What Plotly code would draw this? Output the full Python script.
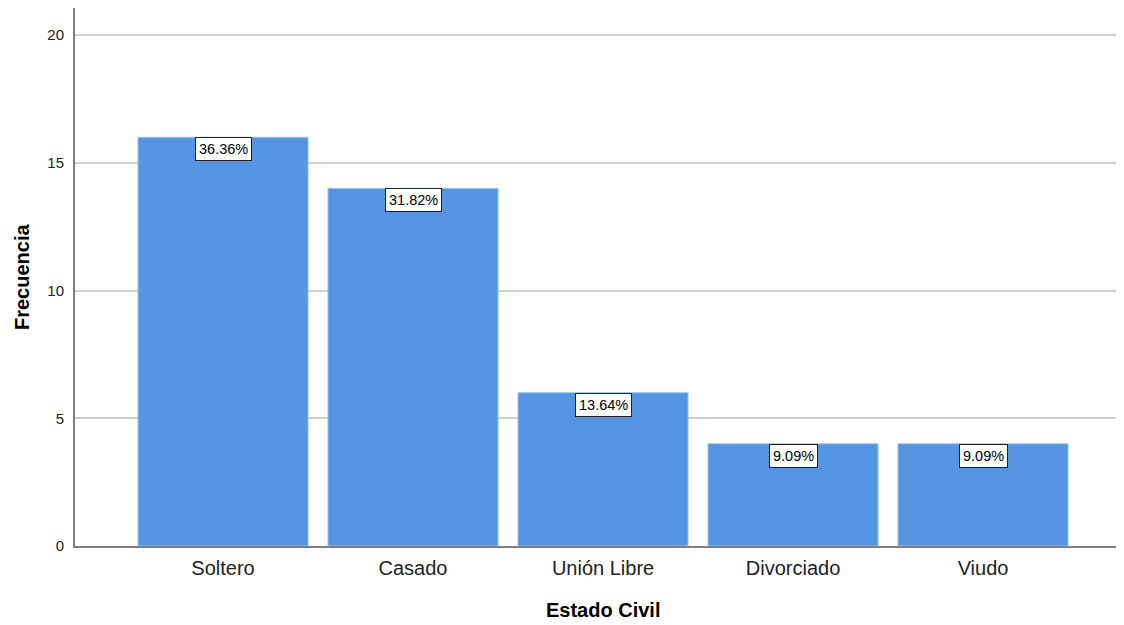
import plotly.graph_objects as go

categories = ["Soltero", "Casado", "Unión Libre", "Divorciado", "Viudo"]
counts = [16, 14, 6, 4, 4]
pct_labels = ["36.36%", "31.82%", "13.64%", "9.09%", "9.09%"]
y_ticks = [0, 5, 10, 15, 20]

FONT = "Arial, Liberation Sans, sans-serif"

fig = go.Figure()
fig.add_trace(go.Bar(
    x=list(range(len(categories))),
    y=counts,
    marker=dict(color="#5594e3", line=dict(color="#9cc2f0", width=1)),
    width=0.895,
    hoverinfo="skip",
))

annotations = []
for i, (c, lab) in enumerate(zip(counts, pct_labels)):
    annotations.append(dict(
        x=i, y=c, xref="x", yref="y", text=lab, showarrow=False,
        yanchor="top", xanchor="center",
        font=dict(family=FONT, size=14.5, color="#000"),
        bgcolor="white", bordercolor="#222", borderwidth=1, borderpad=3,
    ))

annotations.append(dict(
    x=0.5033, y=0, xref="paper", yref="paper", yshift=-64,
    text="<b>Estado Civil</b>", showarrow=False, xanchor="center", yanchor="middle",
    font=dict(family=FONT, size=20, color="#000"),
))
annotations.append(dict(
    x=0, y=0.5, xref="paper", yref="paper", xshift=-53,
    text="<b>Frecuencia</b>", showarrow=False, xanchor="center", yanchor="middle",
    textangle=-90, font=dict(family=FONT, size=20, color="#000"),
))

fig.update_layout(
    width=1116, height=617,
    margin=dict(l=67, r=0, t=0, b=79, pad=0),
    paper_bgcolor="white", plot_bgcolor="white",
    showlegend=False,
    annotations=annotations,
    font=dict(family=FONT),
)
fig.update_xaxes(
    tickmode="array", tickvals=list(range(len(categories))), ticktext=categories,
    range=[-0.779, 4.742], showgrid=False, zeroline=False,
    showline=True, linecolor="#7f7f7f", linewidth=1.5,
    ticks="", ticklabelstandoff=3,
    tickfont=dict(family=FONT, size=20, color="#222"),
)
fig.update_yaxes(
    tickmode="array", tickvals=y_ticks,
    range=[0, 21.06], showgrid=True, gridcolor="#cfcfcf", gridwidth=1.5,
    zeroline=False, showline=True, linecolor="#7f7f7f", linewidth=2,
    ticks="", ticklabelstandoff=6,
    tickfont=dict(family=FONT, size=15, color="#222"),
)

fig.write_html("out.html")
